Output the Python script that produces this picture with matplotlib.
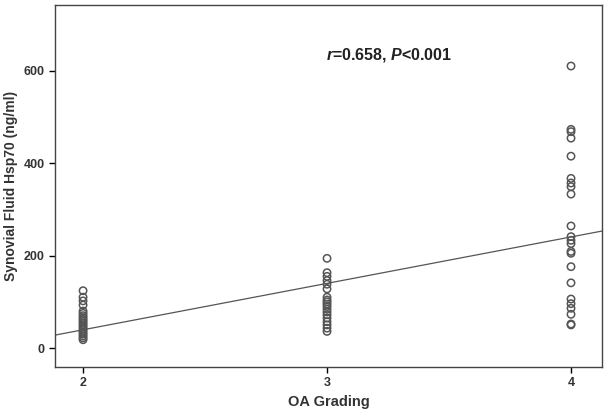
import numpy as np
import matplotlib.pyplot as plt

# OA grade groups and synovial fluid Hsp70 values (ng/ml)
grade2 = [124, 110, 102, 93, 80, 75, 70, 66, 62, 58, 54, 50, 46, 42, 38, 34, 30, 26, 22, 18]
grade3 = [194, 163, 155, 146, 138, 128, 110, 104, 100, 95, 90, 84, 78, 72, 65, 57, 50, 43, 36]
grade4 = [610, 473, 468, 454, 415, 367, 357, 349, 333, 264, 241, 233, 226, 209, 205,
          176, 141, 106, 96, 86, 73, 52, 50]

# fit line
slope = 100.4
intercept = -161.3

x_ticks = [2, 3, 4]
y_ticks = [0, 200, 400, 600]

plt.rcParams['font.family'] = ['Liberation Sans', 'DejaVu Sans']
plt.rcParams['mathtext.fontset'] = 'custom'
plt.rcParams['mathtext.bfit'] = 'Liberation Sans:italic:bold'
plt.rcParams['mathtext.bf'] = 'Liberation Sans:bold'

fig = plt.figure(figsize=(6.07, 4.15), dpi=100)
ax = fig.add_axes([55/607, 48/415, 547/607, 362/415])

for g, vals in zip(x_ticks, [grade2, grade3, grade4]):
    ax.scatter(np.full(len(vals), g), vals, s=28, facecolors='none',
               edgecolors='#555555', linewidths=1.1, zorder=3)

xs = np.array([1.885, 4.127])
ax.plot(xs, slope*xs + intercept, color='#555555', lw=0.9)

ax.set_xlim(1.885, 4.127)
ax.set_ylim(-41, 742)
ax.set_xticks(x_ticks)
ax.set_yticks(y_ticks)
ax.tick_params(direction='out', length=4, width=1, labelsize=9)
for lbl in ax.get_xticklabels() + ax.get_yticklabels():
    lbl.set_fontweight('bold')
    lbl.set_color('#333333')
for sp in ax.spines.values():
    sp.set_color('#444444')
    sp.set_linewidth(1)

ax.set_xlabel('OA Grading', fontsize=10.5, fontweight='bold', color='#333333')
ax.set_ylabel('Synovial Fluid Hsp70 (ng/ml)', fontsize=10, fontweight='bold', color='#333333')

ax.text(2.996, 633, r'$\mathbfit{r}$=0.658, $\mathbfit{P}$<0.001', fontsize=11.5,
        fontweight='bold', va='center', color='#222222')

fig.savefig('out.png', dpi=100)
